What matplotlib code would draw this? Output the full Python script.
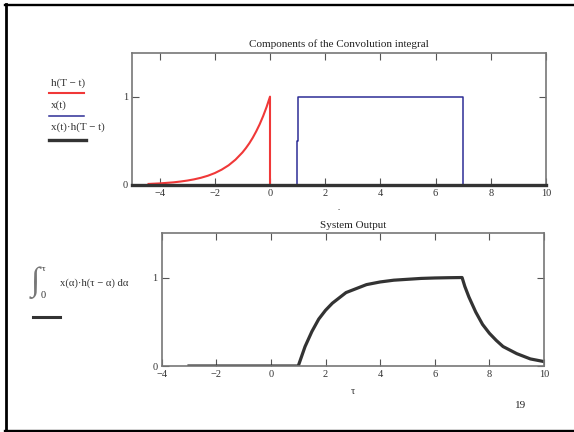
import matplotlib
matplotlib.use("Agg")
import matplotlib.pyplot as plt
from matplotlib.lines import Line2D

# values
t_h = [-4.4, -4.2, -4.0, -3.75, -3.5, -3.25, -3.0, -2.75, -2.5, -2.25, -2.0, -1.75,
       -1.5, -1.25, -1.0, -0.875, -0.75, -0.625, -0.5, -0.375, -0.25, -0.125, 0.0, 0.0]
h_vals = [0.012, 0.015, 0.018, 0.024, 0.030, 0.039, 0.050, 0.064, 0.082, 0.105, 0.135,
          0.174, 0.223, 0.287, 0.368, 0.417, 0.472, 0.535, 0.607, 0.687, 0.779, 0.882,
          1.0, 0.0]

t_x = [-5, 0.98, 0.98, 1.01, 1.01, 7, 7, 10]
x_vals = [0, 0, 0.5, 0.5, 1, 1, 0, 0]

t_prod = [-5, 10]
prod_vals = [0, 0]

tau = [-3, 1, 1.25, 1.5, 1.75, 2, 2.25, 2.5, 2.75, 3, 3.5, 4, 4.5, 5, 5.5, 6, 6.5, 7,
       7.1, 7.25, 7.5, 7.75, 8, 8.25, 8.5, 8.75, 9, 9.5, 10]
y_out = [0, 0, 0.22, 0.39, 0.53, 0.63, 0.71, 0.77, 0.83, 0.86, 0.92, 0.95, 0.97, 0.98,
         0.99, 0.995, 0.998, 1.0, 0.9, 0.78, 0.61, 0.47, 0.37, 0.29, 0.22, 0.18, 0.14,
         0.08, 0.05]

xticks_top = [-4, -2, 0, 2, 4, 6, 8, 10]
xticks_bot = [-4, -2, 0, 2, 4, 6, 8, 10]
yticks = [0, 1]

W, H = 574, 432
plt.rcParams['font.family'] = ['Liberation Serif', 'DejaVu Serif']


def fx(x):
    return x / W


def fy(y):
    return 1 - y / H


fig = plt.figure(figsize=(W / 100, H / 100), dpi=100)

spine_col = '#777777'


def style(ax):
    for s in ax.spines.values():
        s.set_color(spine_col)
        s.set_linewidth(1.2)
    ax.tick_params(direction='in', length=5, width=0.8, color='#555555',
                   top=True, right=True, labelsize=7.5, pad=3, labelcolor='#333333')
    ax.set_yticks(yticks)
    ax.set_ylim(0, 1.5)


# top panel
ax1 = fig.add_axes([fx(132), fy(185), fx(546) - fx(132), fy(52.5) - fy(185)])
ax1.plot(t_h, h_vals, color='#f03838', lw=1.5, zorder=3)
ax1.plot(t_x, x_vals, color='#2e2e96', lw=1.1, zorder=2)
ax1.plot(t_prod, prod_vals, color='#333333', lw=2.4, zorder=4, clip_on=False)
ax1.set_xlim(-5, 10)
ax1.set_xticks(xticks_top)
style(ax1)
ax1.set_title('Components of the Convolution integral', fontsize=8, pad=4, color='#222222')
ax1.set_xlabel('.', fontsize=6, labelpad=4)

# bottom panel
ax2 = fig.add_axes([fx(161.7), fy(366), fx(544) - fx(161.7), fy(233.3) - fy(366)])
ax2.plot(tau, y_out, color='#333333', lw=2.3)
ax2.set_xlim(-4, 10)
ax2.set_xticks(xticks_bot)
style(ax2)
ax2.set_title('System Output', fontsize=8, pad=4, color='#222222')
ax2.set_xlabel('τ', fontsize=7.5, labelpad=6, color='#333333')

# legend of the top panel
fig.text(fx(51), fy(83), 'h(T − t)', fontsize=8, va='center', color='#333333')
fig.add_artist(Line2D([fx(49), fx(84)], [fy(93), fy(93)], color='#f03838', lw=1.5))
fig.text(fx(51), fy(105), 'x(t)', fontsize=8, va='center', color='#333333')
fig.add_artist(Line2D([fx(49), fx(84)], [fy(115.5), fy(115.5)], color='#2e2e96', lw=1.1))
fig.text(fx(51), fy(127), 'x(t)·h(T − t)', fontsize=8, va='center', color='#333333')
fig.add_artist(Line2D([fx(49), fx(85.5)], [fy(140), fy(140)], color='#333333', lw=2.4))

# legend of the bottom panel
fig.text(fx(31), fy(283), '∫', fontsize=24, va='center', color='#777777')
fig.text(fx(42), fy(269), 'τ', fontsize=6.5, va='center', color='#333333')
fig.text(fx(41), fy(296), '0', fontsize=7.5, va='center', color='#333333')
fig.text(fx(60), fy(283), 'x(α)·h(τ − α) dα', fontsize=7.7, va='center', color='#333333')
fig.add_artist(Line2D([fx(33), fx(60)], [fy(317), fy(317)], color='#333333', lw=2.2))

# page number
fig.text(fx(521), fy(405), '19', fontsize=8, ha='center', va='center', color='#222222')

# slide frame
fig.add_artist(Line2D([fx(6), fx(6)], [fy(4), fy(432)], color='black', lw=2))
fig.add_artist(Line2D([fx(5), fx(574)], [fy(5), fy(5)], color='black', lw=1.7))
fig.add_artist(Line2D([fx(5), fx(574)], [fy(431), fy(431)], color='black', lw=1.7))

fig.savefig('out.png', dpi=100)
